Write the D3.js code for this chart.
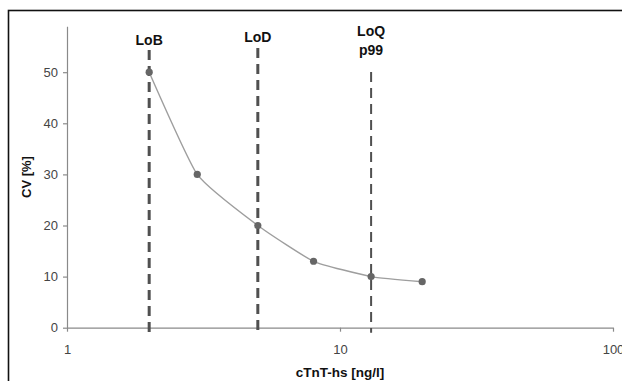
<!DOCTYPE html>
<html>
<head>
<meta charset="utf-8">
<script src="https://cdn.jsdelivr.net/npm/d3@7"></script>
<style>
  body { margin: 0; background: #fff; }
  svg { display: block; font-family: "Liberation Sans", Arial, sans-serif; }
</style>
</head>
<body>
<div id="chart"></div>
<script>
'use strict';

// measured concentrations (ng/l) and their CV (%)
var concentrations = [2, 3, 5, 8, 13, 20];
var cvValues = [50, 30, 20, 13, 10, 9];

// reference limits drawn as dashed verticals
var limitNames = [['LoB'], ['LoD'], ['LoQ', 'p99']];
var limitValues = [2, 5, 13];

var xTicks = [1, 10, 100];
var yTicks = [0, 10, 20, 30, 40, 50];

var width = 622,
    height = 381;

var svg = d3.select('#chart').append('svg')
            .attr('width', width)
            .attr('height', height);

// outer frame, runs off the right and bottom edge
svg.append('rect')
   .attr('x', 8.5)
   .attr('y', 10.5)
   .attr('width', 640)
   .attr('height', 400)
   .attr('fill', 'none')
   .attr('stroke', '#111')
   .attr('stroke-width', 1.6);

var x = d3.scaleLog().domain([1, 100]).range([67, 613]);
var y = d3.scaleLinear().domain([0, 59]).range([327.7, 26.2]);

// axes
var xAxis = svg.append('g')
               .attr('transform', 'translate(0,' + y(0) + ')')
               .call(d3.axisBottom(x).tickValues(xTicks).tickFormat(d3.format('d'))
                       .tickSize(4).tickSizeOuter(0).tickPadding(13));

var yAxis = svg.append('g')
               .attr('transform', 'translate(' + x(1) + ',0)')
               .call(d3.axisLeft(y).tickValues(yTicks).tickSize(4).tickSizeOuter(0).tickPadding(5));

[xAxis, yAxis].forEach(function (g) {
    g.select('.domain').attr('stroke', '#8a8a8a').attr('stroke-width', 1.2);
    g.selectAll('.tick line').attr('stroke', '#8a8a8a').attr('stroke-width', 1.2);
    g.selectAll('.tick text')
     .attr('fill', '#444')
     .attr('font-size', 13)
     .attr('font-family', '"Liberation Sans", Arial, sans-serif');
});

// dashed limit lines
var limits = svg.append('g').selectAll('g')
                .data(limitValues)
                .enter()
                .append('g');

limits.append('line')
      .attr('x1', function (d) { return x(d); })
      .attr('x2', function (d) { return x(d); })
      .attr('y1', function (d, i) { return i === 2 ? 72 : (i === 0 ? 50 : 48); })
      .attr('y2', y(0) + 5)
      .attr('stroke', '#505050')
      .attr('stroke-width', function (d, i) { return i === 2 ? 2 : 3; })
      .attr('stroke-dasharray', '10,6');

limits.each(function (d, i) {
    var base = [45, 42, 36][i];
    d3.select(this).selectAll('text')
      .data(limitNames[i])
      .enter()
      .append('text')
      .attr('x', x(d))
      .attr('y', function (t, j) { return base + j * 18.5; })
      .attr('text-anchor', 'middle')
      .attr('font-size', 14)
      .attr('font-weight', 'bold')
      .attr('fill', '#111')
      .text(function (t) { return t; });
});

// CV profile
var line = d3.line()
             .x(function (d, i) { return x(concentrations[i]); })
             .y(function (d) { return y(d); })
             .curve(d3.curveCardinal.tension(0.55));

svg.append('path')
   .datum(cvValues)
   .attr('d', line)
   .attr('fill', 'none')
   .attr('stroke', '#9e9e9e')
   .attr('stroke-width', 1.4);

svg.selectAll('circle.pt')
   .data(cvValues)
   .enter()
   .append('circle')
   .attr('class', 'pt')
   .attr('cx', function (d, i) { return x(concentrations[i]); })
   .attr('cy', function (d) { return y(d); })
   .attr('r', 3.6)
   .attr('fill', '#666');

// axis titles
svg.append('text')
   .attr('x', 340)
   .attr('y', 377)
   .attr('text-anchor', 'middle')
   .attr('font-size', 13.5)
   .attr('font-weight', 'bold')
   .attr('fill', '#111')
   .text('cTnT-hs [ng/l]');

svg.append('text')
   .attr('transform', 'translate(31,177) rotate(-90)')
   .attr('text-anchor', 'middle')
   .attr('font-size', 13)
   .attr('font-weight', 'bold')
   .attr('fill', '#111')
   .text('CV [%]');
</script>
</body>
</html>
